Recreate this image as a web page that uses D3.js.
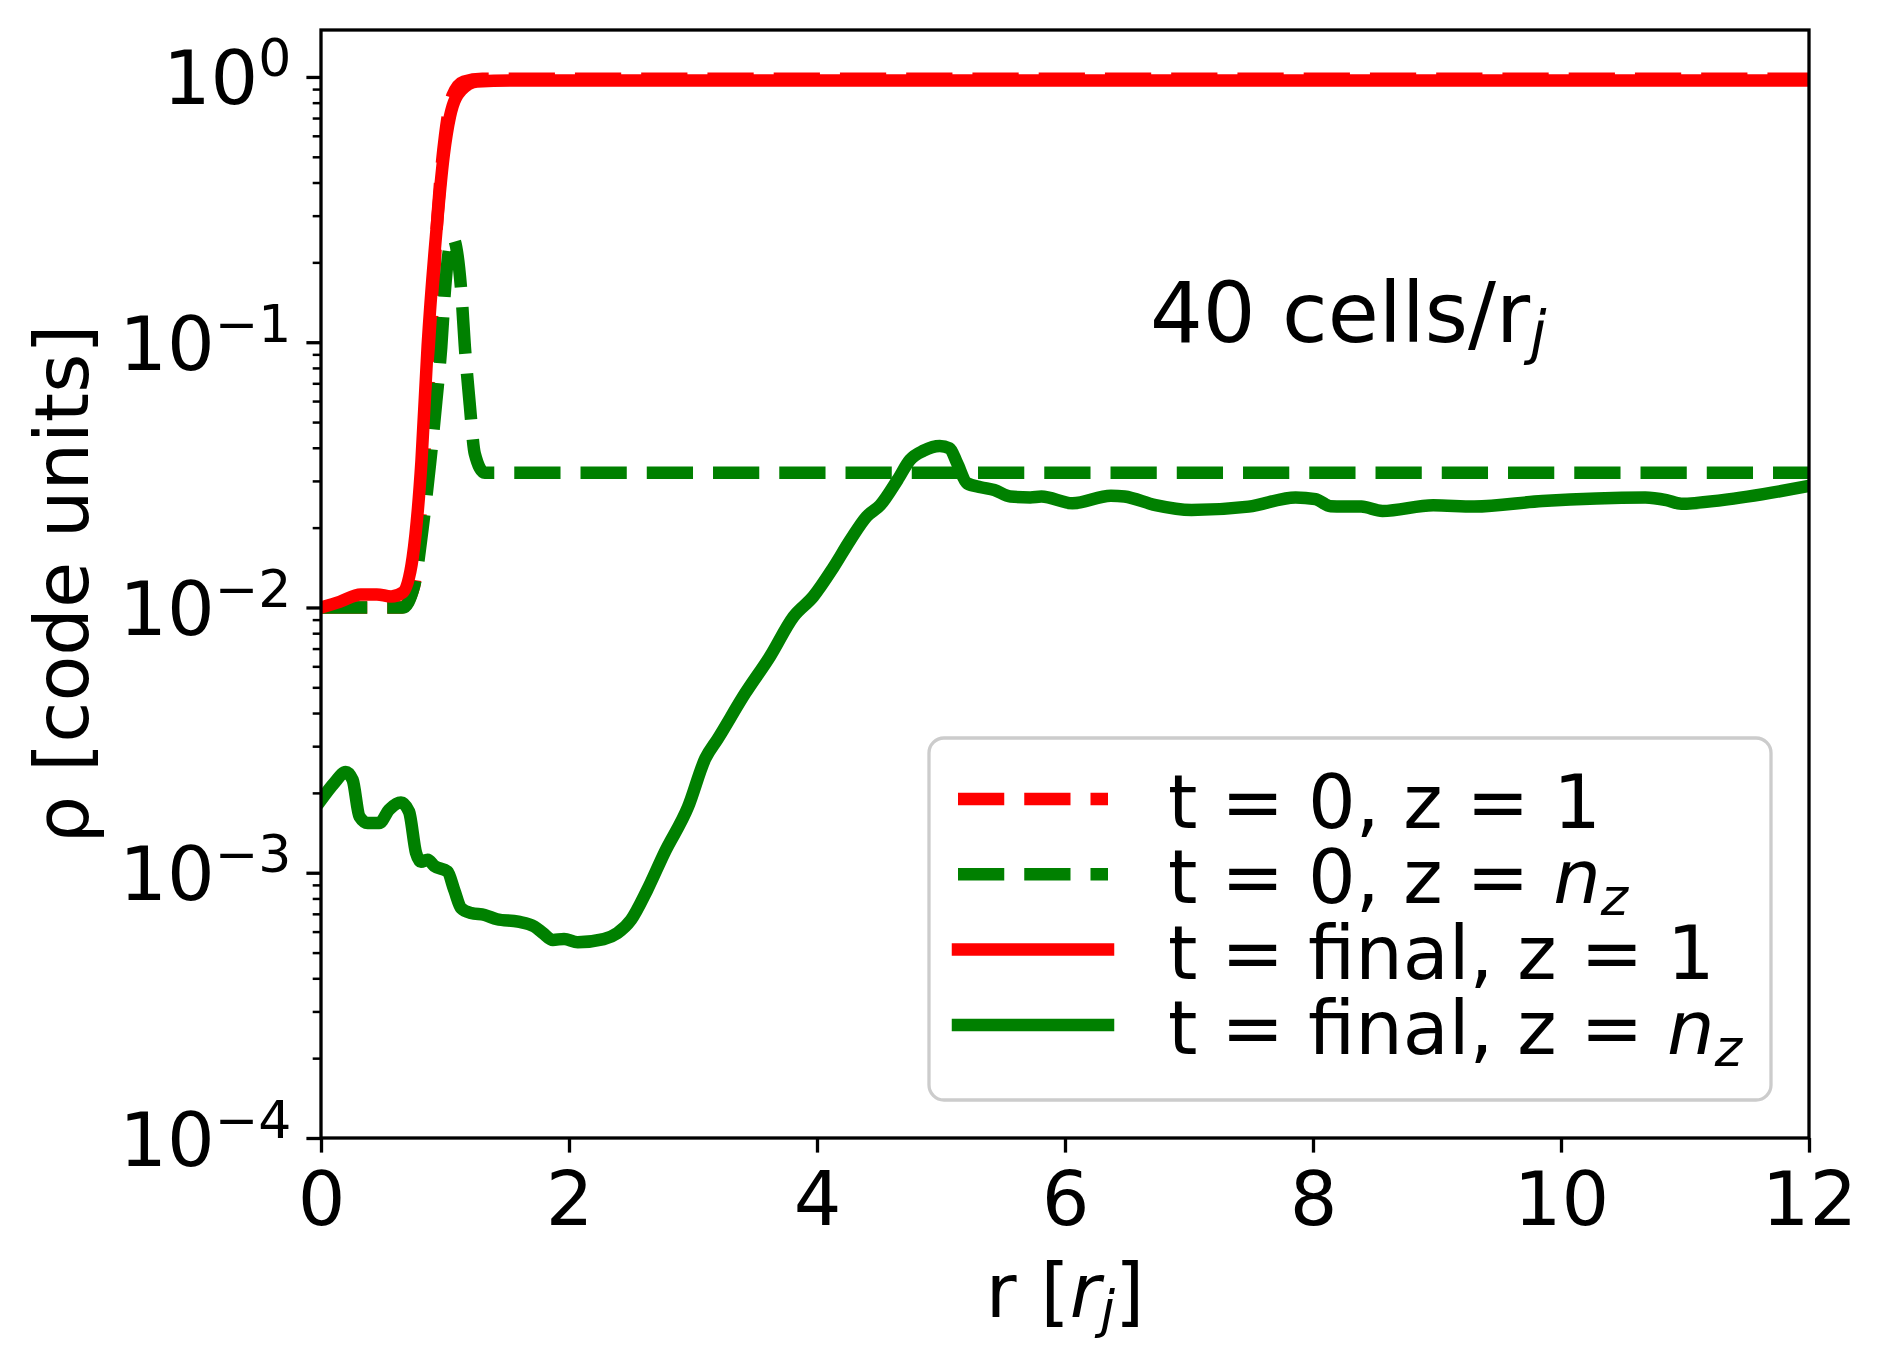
<!DOCTYPE html>
<html>
<head>
<meta charset="utf-8">
<script src="https://cdn.jsdelivr.net/npm/d3@7"></script>
<style>
  body { margin: 0; background: #fff; }
  text { font-family: "DejaVu Sans", sans-serif; fill: #000; }
</style>
</head>
<body>
<svg id="chart" width="1887" height="1372"></svg>
<script>
// t = 0, z = 1 (mostly hidden under the final profile)
const rdR   = [0, 0.65, 0.75, 0.82, 0.88, 0.94, 1.0, 1.06, 1.15, 1.3, 12];
const rdRho = [0.01, 0.01, 0.012, 0.03, 0.09, 0.3, 0.6, 0.85, 0.96, 0.985, 0.985];

// t = 0, z = n_z
const gdR   = [0, 0.66, 0.75, 0.82, 0.88, 0.93, 0.97, 1.0, 1.06, 1.13, 1.16, 1.2, 1.24, 1.32, 12];
const gdRho = [0.01, 0.01, 0.012, 0.02, 0.035, 0.06, 0.096, 0.158, 0.249, 0.158, 0.0964, 0.058, 0.038, 0.0322, 0.0322];

// t = final, z = 1
const rsR   = [0, 0.15, 0.32, 0.45, 0.565, 0.66, 0.74, 0.81, 0.86, 0.93, 0.99, 1.04, 1.13, 1.26, 1.61, 12];
const rsRho = [0.01, 0.0105, 0.0112, 0.0112, 0.011, 0.0114, 0.0155, 0.0355, 0.097, 0.261, 0.508, 0.71, 0.89, 0.962, 0.97, 0.97];

// t = final, z = n_z
const gsR = [0, 0.107, 0.2, 0.255, 0.31, 0.376, 0.47, 0.55, 0.645, 0.71, 0.766, 0.806, 0.86, 0.914,
  1.02, 1.075, 1.13, 1.21, 1.32, 1.42, 1.59, 1.72, 1.79, 1.87, 1.96, 2.07, 2.28, 2.39, 2.5, 2.63,
  2.77, 2.96, 3.1, 3.2, 3.42, 3.62, 3.81, 3.97, 4.13, 4.27, 4.4, 4.51, 4.65, 4.75, 4.86, 4.99,
  5.07, 5.13, 5.21, 5.32, 5.43, 5.56, 5.72, 5.81, 6.06, 6.37, 6.48, 6.73, 7.02, 7.48, 7.86, 8.02,
  8.14, 8.39, 8.56, 8.97, 9.3, 9.85, 10.68, 10.85, 10.97, 11.3, 12];
const gsRho = [0.00188, 0.00218, 0.0024, 0.00224, 0.00163, 0.00154, 0.00154, 0.00173, 0.00184, 0.0017,
  0.00119, 0.0011, 0.00112, 0.00106, 0.00101, 0.00086, 0.000736, 0.000705, 0.000693, 0.000668,
  0.000654, 0.000627, 0.000592, 0.000558, 0.000563, 0.000547, 0.000562, 0.000592, 0.000664, 0.00086,
  0.00119, 0.00177, 0.0027, 0.0032, 0.00474, 0.00653, 0.00923, 0.011, 0.0141, 0.018, 0.022, 0.0243,
  0.0303, 0.036, 0.039, 0.0406, 0.0398, 0.035, 0.0294, 0.0284, 0.0277, 0.0262, 0.026, 0.0262,
  0.0247, 0.0264, 0.0262, 0.0243, 0.0233, 0.024, 0.026, 0.0256, 0.0241, 0.024, 0.0231, 0.0243,
  0.024, 0.0252, 0.026, 0.0254, 0.0246, 0.0254, 0.0287];

const xTicks = [0, 2, 4, 6, 8, 10, 12];
const yExps = [0, -1, -2, -3, -4];
const legendLabels = [
  ["t = 0, z = 1", null],
  ["t = 0, z = ", "n"],
  ["t = final, z = 1", null],
  ["t = final, z = ", "n"]
];

const RED = "#ff0000", GREEN = "#008000";
const LW = 12.5;
const DASH = [3.7 * LW, 1.6 * LW].join(",");
const FS = 75;

const series = [
  { r: rdR, rho: rdRho, color: RED, dashed: true },
  { r: gdR, rho: gdRho, color: GREEN, dashed: true },
  { r: rsR, rho: rsRho, color: RED, dashed: false },
  { r: gsR, rho: gsRho, color: GREEN, dashed: false }
];

const L = 321, R = 1809, T = 30, B = 1138;
const svg = d3.select("#chart");

const x = d3.scaleLinear().domain([0, 12]).range([L, R]);
const y = d3.scaleLog().domain([1e-4, Math.pow(10, 0.177)]).range([B, T]);

svg.append("clipPath").attr("id", "clip")
  .append("rect").attr("x", L).attr("y", T).attr("width", R - L).attr("height", B - T);

// minor y ticks
const minors = [];
for (let e = -4; e < 1; e++) for (let m = 2; m <= 9; m++) {
  const v = m * Math.pow(10, e);
  if (v <= y.domain()[1]) minors.push(v);
}
svg.append("g").attr("transform", `translate(${L},0)`)
  .call(d3.axisLeft(y).tickValues(minors).tickSize(8.3).tickFormat(""))
  .call(g => g.select(".domain").remove())
  .call(g => g.selectAll("line").attr("stroke-width", 2.5));

// major y ticks
const yAxis = svg.append("g").attr("transform", `translate(${L},0)`)
  .call(d3.axisLeft(y).tickValues(yExps.map(e => Math.pow(10, e))).tickSize(14.6).tickPadding(15).tickFormat(""))
  .call(g => g.select(".domain").remove())
  .call(g => g.selectAll("line").attr("stroke-width", 3.3));
yAxis.selectAll(".tick text").each(function(d) {
  const t = d3.select(this);
  const e = Math.round(Math.log10(d));
  t.attr("font-size", FS).attr("dy", 27).attr("fill", "#000").attr("font-family", "DejaVu Sans");
  t.append("tspan").text("10");
  t.append("tspan").attr("font-size", 52).attr("dy", -28).text(e === 0 ? "0" : "\u2212" + Math.abs(e));
});

// x ticks
const xAxis = svg.append("g").attr("transform", `translate(0,${B})`)
  .call(d3.axisBottom(x).tickValues(xTicks).tickSize(14.6).tickFormat(d3.format("d")))
  .call(g => g.select(".domain").remove())
  .call(g => g.selectAll("line").attr("stroke-width", 3.3));
xAxis.selectAll(".tick text")
  .attr("font-size", FS).attr("y", 87).attr("dy", 0).attr("fill", "#000").attr("font-family", "DejaVu Sans");

// lines
const line = d3.line().x(d => x(d[0])).y(d => y(d[1])).curve(d3.curveMonotoneX);
const plot = svg.append("g").attr("clip-path", "url(#clip)");
series.forEach(s => {
  plot.append("path")
    .datum(s.r.map((r, i) => [r, s.rho[i]]))
    .attr("d", line)
    .attr("fill", "none")
    .attr("stroke", s.color)
    .attr("stroke-width", LW)
    .attr("stroke-linejoin", "round")
    .attr("stroke-linecap", s.dashed ? "butt" : "square")
    .attr("stroke-dasharray", s.dashed ? DASH : null);
});

// frame
svg.append("rect").attr("x", L).attr("y", T).attr("width", R - L).attr("height", B - T)
  .attr("fill", "none").attr("stroke", "#000").attr("stroke-width", 3.3);

// annotation
const ann = svg.append("text").attr("x", 1150).attr("y", 342).attr("font-size", 83);
ann.append("tspan").text("40 cells/r");
ann.append("tspan").attr("font-size", 58).attr("font-style", "italic").attr("dy", 11).text("j");

// axis labels
const xl = svg.append("text").attr("x", (L + R) / 2).attr("y", 1317)
  .attr("text-anchor", "middle").attr("font-size", FS);
xl.append("tspan").text("r [");
xl.append("tspan").attr("font-style", "italic").text("r");
xl.append("tspan").attr("font-style", "italic").attr("font-size", 52).attr("dy", 10).text("j");
xl.append("tspan").attr("dy", -10).text("]");

svg.append("text")
  .attr("transform", `translate(88,${(T + B) / 2}) rotate(-90)`)
  .attr("text-anchor", "middle").attr("font-size", FS)
  .text("\u03c1 [code units]");

// legend
const lg = svg.append("g");
lg.append("rect").attr("x", 929).attr("y", 738).attr("width", 842).attr("height", 362)
  .attr("rx", 15).attr("ry", 15)
  .attr("fill", "#fff").attr("fill-opacity", 0.8)
  .attr("stroke", "#cccccc").attr("stroke-width", 3.3);
series.forEach((s, i) => {
  const cy = 799 + i * 75.3;
  lg.append("line").attr("x1", 958).attr("x2", 1108).attr("y1", cy).attr("y2", cy)
    .attr("stroke", s.color).attr("stroke-width", LW)
    .attr("stroke-linecap", s.dashed ? "butt" : "square")
    .attr("stroke-dasharray", s.dashed ? DASH : null);
  const t = lg.append("text").attr("x", 1168).attr("y", cy + 29).attr("font-size", FS);
  t.append("tspan").text(legendLabels[i][0]);
  if (legendLabels[i][1]) {
    t.append("tspan").attr("font-style", "italic").text(legendLabels[i][1]);
    t.append("tspan").attr("font-style", "italic").attr("font-size", 52).attr("dy", 12).text("z");
  }
});
</script>
</body>
</html>
